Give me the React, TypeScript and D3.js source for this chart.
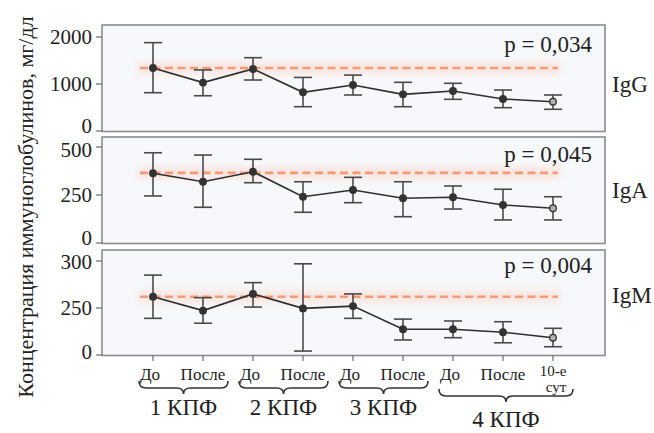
import React from "react";
import * as d3 from "d3";

const categories = ["До", "После", "До", "После", "До", "После", "До", "После", "10-е|сут"];
const groups = [
  { label: "1 КПФ", from: 0, to: 1 },
  { label: "2 КПФ", from: 2, to: 3 },
  { label: "3 КПФ", from: 4, to: 5 },
  { label: "4 КПФ", from: 6, to: 8 },
];

const igGMean = [1340, 1030, 1320, 823, 979, 780, 851, 681, 623];
const igGUpper = [1880, 1300, 1560, 1140, 1190, 1036, 1015, 872, 766];
const igGLower = [815, 750, 1085, 517, 766, 517, 674, 496, 462];

const igAMean = [363, 319, 371, 241, 276, 233, 238, 198, 181];
const igAUpper = [470, 458, 436, 319, 342, 319, 297, 280, 241];
const igALower = [245, 186, 314, 160, 210, 137, 177, 120, 120];

const igMMean = [262, 236, 265, 248, 252, 137, 137, 121, 92];
const igMUpper = [285, 261, 277, 297, 265, 191, 181, 177, 142];
const igMLower = [195, 169, 251, 21, 195, 80, 92, 65, 44];

const refValues = [1340, 365, 262];
const pLabels = ["p = 0,034", "p = 0,045", "p = 0,004"];
const seriesNames = ["IgG", "IgA", "IgM"];
const igGTicks = [0, 1000, 2000];
const igATicks = [0, 250, 500];
const igMTicks = [0, 250, 300];
const yTitle = "Концентрация иммуноглобулинов, мг/дл";

const W = 654;
const H = 433;
const left = 102;
const right = 605;
const font = "'Liberation Serif', 'Times New Roman', serif";

const panels = [
  { top: 25, bottom: 131.5, labelShift: [-5, 0, 0], scale: d3.scaleLinear().domain([0, 2000]).range([131, 37]), mean: igGMean, up: igGUpper, lo: igGLower, ticks: igGTicks },
  { top: 137, bottom: 243.5, labelShift: [-5, 0, 3], scale: d3.scaleLinear().domain([0, 500]).range([243, 147]), mean: igAMean, up: igAUpper, lo: igALower, ticks: igATicks },
  { top: 250, bottom: 355.5, labelShift: [-3, 0, 1], scale: d3.scaleLinear().domain([0, 250, 300]).range([355, 308, 261]), mean: igMMean, up: igMUpper, lo: igMLower, ticks: igMTicks },
];

const x = d3.scalePoint<number>().domain(d3.range(categories.length)).range([153, 553]);

function bracePath(x1: number, x2: number, y: number, depth: number, tip: number) {
  const xm = (x1 + x2) / 2;
  const r = depth;
  return [
    `M${x1},${y - r}`,
    `Q${x1},${y} ${x1 + r},${y}`,
    `L${xm - r},${y}`,
    `Q${xm},${y} ${xm},${y + tip}`,
    `Q${xm},${y} ${xm + r},${y}`,
    `L${x2 - r},${y}`,
    `Q${x2},${y} ${x2},${y - r}`,
  ].join(" ");
}

export default function App() {
  const line = d3.line<number>().x((_, i) => x(i) as number);
  return (
    <svg width={W} height={H} style={{ display: "block", position: "absolute", left: 0, top: 0, background: "#fff" }} fontFamily={font}>
      <defs>
        <filter id="glow" x="-10%" y="-200%" width="120%" height="500%">
          <feGaussianBlur stdDeviation="3" />
        </filter>
      </defs>
      {panels.map((p, pi) => {
        const ln = line.y((d) => p.scale(d));
        const refY = p.scale(refValues[pi]);
        return (
          <g key={pi}>
            <rect x={left} y={p.top} width={right - left} height={p.bottom - p.top} fill="#f7f8fb" stroke="#8c8c8c" strokeWidth={1.6} />
            <rect x={138} y={refY - 6} width={422} height={12} fill="#fbd3c3" opacity={0.5} filter="url(#glow)" />
            <line x1={140} x2={558} y1={refY} y2={refY} stroke="#f39a78" strokeWidth={2.6} strokeDasharray="8,4.5" />
            {p.ticks.map((t, ti) => (
              <g key={t}>
                <line x1={96} x2={left} y1={p.scale(t)} y2={p.scale(t)} stroke="#777" strokeWidth={1.3} />
                <text x={92} y={p.scale(t) + p.labelShift[ti]} dy="0.34em" textAnchor="end" fontSize={21} fill="#222">{t}</text>
              </g>
            ))}
            {p.mean.map((m, i) => {
              const cx = x(i) as number;
              return (
                <g key={i} stroke="#4a4a4a" strokeWidth={1.6}>
                  <line x1={cx} x2={cx} y1={p.scale(p.up[i])} y2={p.scale(p.lo[i])} />
                  <line x1={cx - 9} x2={cx + 9} y1={p.scale(p.up[i])} y2={p.scale(p.up[i])} />
                  <line x1={cx - 9} x2={cx + 9} y1={p.scale(p.lo[i])} y2={p.scale(p.lo[i])} />
                </g>
              );
            })}
            <path d={ln(p.mean) || ""} fill="none" stroke="#2e2e2e" strokeWidth={1.6} />
            {p.mean.map((m, i) => (
              <circle key={i} cx={x(i) as number} cy={p.scale(m)} r={3.3} fill={i === p.mean.length - 1 ? "#b0b0b0" : "#333"} stroke="#333" strokeWidth={1.3} />
            ))}
            <text x={592} y={[52, 162, 273][pi]} textAnchor="end" fontSize={23} fill="#222">{pLabels[pi]}</text>
            <text x={612} y={[92, 198, 303][pi]} fontSize={23} fill="#222">{seriesNames[pi]}</text>
          </g>
        );
      })}
      {categories.map((c, i) => (
        <line key={i} x1={x(i) as number} x2={x(i) as number} y1={355.5} y2={361} stroke="#777" strokeWidth={1.3} />
      ))}
      {categories.map((c, i) => {
        const parts = c.split("|");
        const cx = x(i) as number;
        if (parts.length === 1)
          return (
            <text key={i} x={cx - (c === "До" ? 3 : 0)} y={380} textAnchor="middle" fontSize={17} fill="#222">{c}</text>
          );
        return (
          <g key={i}>
            <text x={cx} y={376} textAnchor="middle" fontSize={15} fill="#222">{parts[0]}</text>
            <text x={cx + 3} y={392} textAnchor="middle" fontSize={15} fill="#222">{parts[1]}</text>
          </g>
        );
      })}
      {groups.map((g, gi) => {
        const last = gi === groups.length - 1;
        const x1 = (x(g.from) as number) - 14;
        const x2 = (x(g.to) as number) + (last ? 20 : 25);
        const y = last ? 396 : 388;
        const xm = (x1 + x2) / 2;
        return (
          <g key={gi}>
            <path d={bracePath(x1, x2, y, 7, 6)} fill="none" stroke="#333" strokeWidth={1.6} />
            <text x={xm} y={last ? 427 : 415} textAnchor="middle" fontSize={23} fill="#222">{g.label}</text>
          </g>
        );
      })}
      <text transform="translate(33,207) rotate(-90)" textAnchor="middle" fontSize={22} fill="#222">{yTitle}</text>
    </svg>
  );
}
